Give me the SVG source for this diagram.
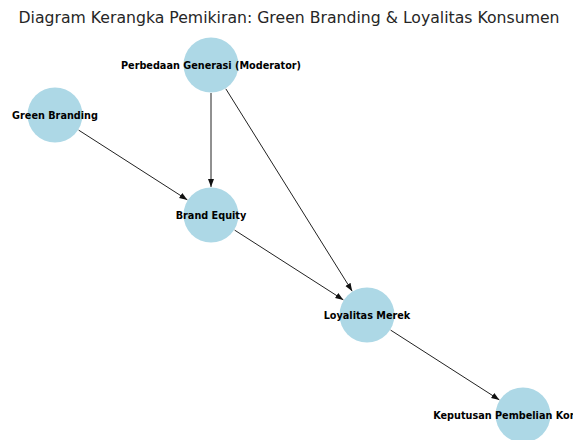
<svg xmlns="http://www.w3.org/2000/svg" width="573" height="440" viewBox="0 0 573 440">
<style>
.node circle{fill:#add8e6;}
.node text{font-family:"DejaVu Sans",sans-serif;font-size:9.7px;font-weight:bold;fill:#000;text-anchor:middle;dominant-baseline:central;}
.edge{stroke:#222;stroke-width:1;fill:none;marker-end:url(#arr);}
.title{font-family:"DejaVu Sans",sans-serif;font-size:15.7px;fill:#262626;text-anchor:middle;}
</style>
<defs>
<marker id="arr" markerUnits="userSpaceOnUse" markerWidth="10" markerHeight="8" refX="8" refY="3" orient="auto">
<path d="M0,0 L8,3 L0,6 Z" fill="#111"/>
</marker>
</defs>
<rect width="573" height="440" fill="#fff"/>
<text class="title" x="289" y="23">Diagram Kerangka Pemikiran: Green Branding &amp; Loyalitas Konsumen</text>
<g id="connectors">
<line class="edge" x1="211" y1="93" x2="211" y2="187"/>
<line class="edge" x1="225.8" y1="88.8" x2="352.2" y2="291.2"/>
<line class="edge" x1="78.6" y1="130.1" x2="187.4" y2="199.9"/>
<line class="edge" x1="234.6" y1="230.1" x2="343.4" y2="299.9"/>
<line class="edge" x1="390.6" y1="330.1" x2="499.4" y2="399.9"/>
</g>
<g id="node-generasi" class="node"><circle cx="211" cy="65" r="27.5"/><text x="211" y="65">Perbedaan Generasi (Moderator)</text></g>
<g id="node-green" class="node"><circle cx="55" cy="115" r="27.5"/><text x="55" y="115">Green Branding</text></g>
<g id="node-equity" class="node"><circle cx="211" cy="215" r="27.5"/><text x="211" y="215">Brand Equity</text></g>
<g id="node-loyalitas" class="node"><circle cx="367" cy="315" r="27.5"/><text x="367" y="315">Loyalitas Merek</text></g>
<g id="node-keputusan" class="node"><circle cx="523" cy="415" r="27.5"/><text x="523" y="415">Keputusan Pembelian Konsumen</text></g>
</svg>
